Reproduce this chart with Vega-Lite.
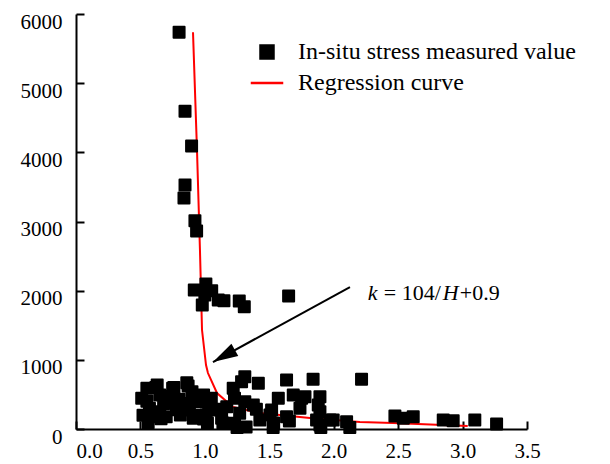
{
  "$schema": "https://vega.github.io/schema/vega-lite/v6.json",
  "width": 451,
  "height": 415,
  "autosize": "none",
  "padding": {"left": 76, "top": 14, "right": 83, "bottom": 35},
  "background": "white",
  "config": {
    "view": {"stroke": null},
    "font": "Liberation Serif",
    "style": {"guide-label": {"font": "Liberation Serif", "fontSize": 21, "fill": "black"}},
    "axis": {
      "grid": false,
      "domainColor": "black",
      "domainWidth": 2,
      "tickColor": "black",
      "tickWidth": 2,
      "tickSize": -8,
      "labelColor": "black",
      "labelFont": "Liberation Serif",
      "labelFontSize": 21,
      "title": null
    },
    "legend": {
      "orient": "none",
      "legendX": 179,
      "legendY": 26,
      "padding": 0,
      "symbolSize": 169,
      "symbolStrokeWidth": 2.5,
      "labelFont": "Liberation Serif",
      "labelFontSize": 24,
      "labelColor": "black",
      "labelOffset": 19,
      "rowPadding": 7,
      "labelLimit": 400
    }
  },
  "datasets": {
    "measured": [
      {"k": 0.80, "H": 5737}, {"k": 0.846, "H": 4595}, {"k": 0.897, "H": 4090}, {"k": 0.846, "H": 3526},
      {"k": 0.838, "H": 3338}, {"k": 0.923, "H": 3010}, {"k": 0.936, "H": 2861}, {"k": 0.918, "H": 2009},
      {"k": 1.008, "H": 2095}, {"k": 1.053, "H": 1999}, {"k": 1.0, "H": 1936}, {"k": 0.98, "H": 1792},
      {"k": 1.104, "H": 1864}, {"k": 1.148, "H": 1854}, {"k": 1.267, "H": 1850}, {"k": 1.306, "H": 1767},
      {"k": 1.65, "H": 1922},
      {"k": 0.51, "H": 444}, {"k": 0.52, "H": 200}, {"k": 0.55, "H": 588}, {"k": 0.55, "H": 400},
      {"k": 0.56, "H": 90}, {"k": 0.57, "H": 300}, {"k": 0.60, "H": 178}, {"k": 0.62, "H": 600},
      {"k": 0.63, "H": 636}, {"k": 0.65, "H": 491}, {"k": 0.65, "H": 250}, {"k": 0.66, "H": 150},
      {"k": 0.68, "H": 370}, {"k": 0.70, "H": 178}, {"k": 0.72, "H": 470}, {"k": 0.75, "H": 588},
      {"k": 0.75, "H": 371}, {"k": 0.76, "H": 600}, {"k": 0.78, "H": 280}, {"k": 0.80, "H": 430},
      {"k": 0.81, "H": 202}, {"k": 0.83, "H": 322}, {"k": 0.84, "H": 368}, {"k": 0.86, "H": 669},
      {"k": 0.87, "H": 620}, {"k": 0.88, "H": 275}, {"k": 0.90, "H": 539}, {"k": 0.91, "H": 155},
      {"k": 0.93, "H": 454}, {"k": 0.93, "H": 480}, {"k": 0.96, "H": 395}, {"k": 0.97, "H": 200},
      {"k": 0.99, "H": 491}, {"k": 0.99, "H": 145}, {"k": 1.01, "H": 202}, {"k": 1.02, "H": 87},
      {"k": 1.03, "H": 322}, {"k": 1.05, "H": 444}, {"k": 1.09, "H": 275}, {"k": 1.11, "H": 285},
      {"k": 1.13, "H": 155}, {"k": 1.14, "H": 87}, {"k": 1.17, "H": 322}, {"k": 1.22, "H": 588},
      {"k": 1.23, "H": 444}, {"k": 1.23, "H": 82}, {"k": 1.25, "H": 20}, {"k": 1.27, "H": 227},
      {"k": 1.285, "H": 684}, {"k": 1.31, "H": 756}, {"k": 1.31, "H": 395}, {"k": 1.32, "H": 30},
      {"k": 1.376, "H": 347}, {"k": 1.40, "H": 285}, {"k": 1.415, "H": 660}, {"k": 1.427, "H": 130},
      {"k": 1.505, "H": 202}, {"k": 1.518, "H": 275}, {"k": 1.53, "H": 20}, {"k": 1.534, "H": 87},
      {"k": 1.57, "H": 444}, {"k": 1.634, "H": 708}, {"k": 1.634, "H": 178}, {"k": 1.656, "H": 115},
      {"k": 1.686, "H": 491}, {"k": 1.738, "H": 299}, {"k": 1.751, "H": 444}, {"k": 1.777, "H": 467},
      {"k": 1.84, "H": 718}, {"k": 1.867, "H": 130}, {"k": 1.88, "H": 347}, {"k": 1.893, "H": 467},
      {"k": 1.893, "H": 250}, {"k": 1.893, "H": 58}, {"k": 1.90, "H": 20}, {"k": 1.97, "H": 130},
      {"k": 1.996, "H": 130}, {"k": 2.10, "H": 105}, {"k": 2.125, "H": 20}, {"k": 2.216, "H": 718},
      {"k": 2.475, "H": 188}, {"k": 2.54, "H": 155}, {"k": 2.617, "H": 178}, {"k": 2.85, "H": 130},
      {"k": 2.927, "H": 120}, {"k": 3.095, "H": 130}, {"k": 3.264, "H": 72}
    ],
    "curve": [
      {"k": 0.908, "H": 5737}, {"k": 0.939, "H": 4032}, {"k": 0.962, "H": 2587}, {"k": 0.978, "H": 1431},
      {"k": 1.009, "H": 925}, {"k": 1.024, "H": 809}, {"k": 1.094, "H": 520}, {"k": 1.218, "H": 318},
      {"k": 1.427, "H": 231}, {"k": 1.815, "H": 159}, {"k": 2.203, "H": 101}, {"k": 2.46, "H": 87},
      {"k": 3.04, "H": 43}
    ],
    "arrow": [{"k": 2.126, "H": 2052, "k2": 1.063, "H2": 968}],
    "note": [{"k": 2.265, "H": 1965}]
  },
  "layer": [
    {
      "data": {"name": "curve"},
      "transform": [{"calculate": "'Regression curve'", "as": "series"}],
      "mark": {"type": "line", "strokeWidth": 2},
      "encoding": {
        "x": {"field": "k", "type": "quantitative", "scale": {"domain": [0, 3.5], "nice": false, "zero": false},
              "axis": {"values": [0, 0.5, 1, 1.5, 2, 2.5, 3, 3.5], "format": ".1f", "labelPadding": 19,
                       "labelFont": "Liberation Serif", "labelFontSize": 21, "labelColor": "black",
                       "labelAlign": {"expr": "datum.value == 0 ? 'left' : 'center'"}}},
        "y": {"field": "H", "type": "quantitative", "scale": {"domain": [0, 6000], "nice": false},
              "axis": {"values": [0, 1000, 2000, 3000, 4000, 5000, 6000], "format": "d", "labelPadding": 22, "labelOffset": 8,
                       "labelFont": "Liberation Serif", "labelFontSize": 21, "labelColor": "black"}},
        "stroke": {"field": "series", "type": "nominal",
                   "scale": {"domain": ["In-situ stress measured value", "Regression curve"], "range": ["black", "red"]},
                   "legend": {"title": null}}
      }
    },
    {
      "data": {"name": "measured"},
      "transform": [{"calculate": "'In-situ stress measured value'", "as": "series"}],
      "mark": {"type": "point", "filled": true, "size": 121, "strokeWidth": 2, "strokeJoin": "round", "opacity": 1},
      "encoding": {
        "x": {"field": "k", "type": "quantitative"},
        "y": {"field": "H", "type": "quantitative"},
        "fill": {"field": "series", "type": "nominal",
                 "scale": {"domain": ["In-situ stress measured value", "Regression curve"], "range": ["black", "red"]},
                 "legend": {"title": null}},
        "stroke": {"field": "series", "type": "nominal", "legend": {"title": null}},
        "shape": {"field": "series", "type": "nominal",
                  "scale": {"domain": ["In-situ stress measured value", "Regression curve"], "range": ["square", "M-2.5,0H2.5"]},
                  "legend": {"title": null}}
      }
    },
    {
      "data": {"name": "arrow"},
      "mark": {"type": "rule", "color": "black", "strokeWidth": 2},
      "encoding": {
        "x": {"field": "k", "type": "quantitative"},
        "y": {"field": "H", "type": "quantitative"},
        "x2": {"field": "k2"},
        "y2": {"field": "H2"}
      }
    },
    {
      "data": {"name": "arrow"},
      "mark": {"type": "point", "filled": true, "color": "black", "opacity": 1, "shape": "M0,0L0.45,1.6L-0.45,1.6Z", "size": 975, "angle": 241},
      "encoding": {
        "x": {"field": "k2", "type": "quantitative"},
        "y": {"field": "H2", "type": "quantitative"}
      }
    },
    {
      "data": {"name": "note"},
      "layer": [
        {"mark": {"type": "text", "text": "k", "fontStyle": "italic", "align": "left", "baseline": "middle", "fontSize": 22, "font": "Liberation Serif", "color": "black"}},
        {"mark": {"type": "text", "text": "= 104/", "dx": 16, "align": "left", "baseline": "middle", "fontSize": 22, "font": "Liberation Serif", "color": "black"}},
        {"mark": {"type": "text", "text": "H", "dx": 75, "fontStyle": "italic", "align": "left", "baseline": "middle", "fontSize": 22, "font": "Liberation Serif", "color": "black"}},
        {"mark": {"type": "text", "text": "+0.9", "dx": 92, "align": "left", "baseline": "middle", "fontSize": 22, "font": "Liberation Serif", "color": "black"}}
      ],
      "encoding": {
        "x": {"field": "k", "type": "quantitative"},
        "y": {"field": "H", "type": "quantitative"}
      }
    }
  ]
}
